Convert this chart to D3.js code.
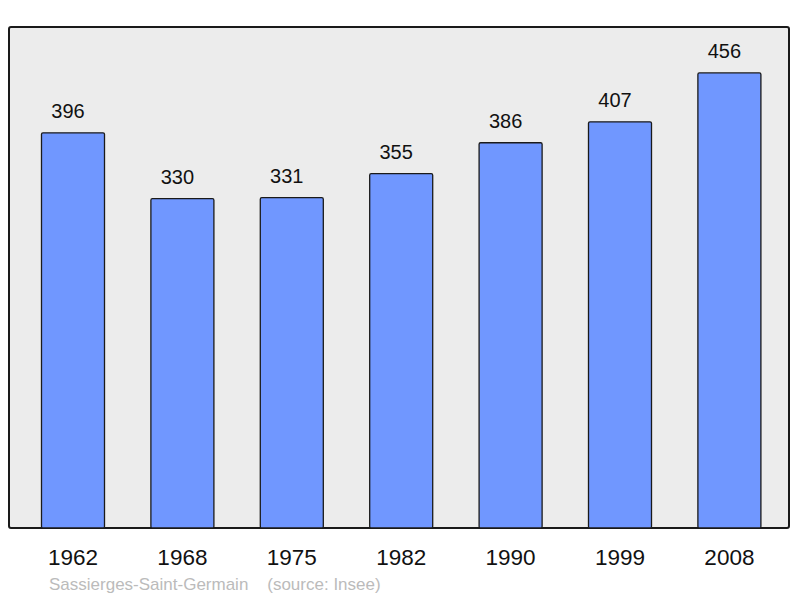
<!DOCTYPE html>
<html>
<head>
<meta charset="utf-8">
<script src="https://cdn.jsdelivr.net/npm/d3@7"></script>
<style>
  body { margin: 0; background: #fff; }
  text { font-family: "Liberation Sans", Arial, sans-serif; }
</style>
</head>
<body>
<div id="chart"></div>
<script>
var years = ['1962', '1968', '1975', '1982', '1990', '1999', '2008'];
var population = [396, 330, 331, 355, 386, 407, 456];
var townName = 'Sassierges-Saint-Germain';
var sourceText = '(source: Insee)';

var width = 800, height = 598;

var svg = d3.select('#chart')
    .append('svg')
    .attr('width', width)
    .attr('height', height);

// panel box
var panel = { x0: 9, x1: 789, y0: 27, y1: 528 };

svg.append('rect')
    .attr('x', panel.x0)
    .attr('y', panel.y0)
    .attr('width', panel.x1 - panel.x0)
    .attr('height', panel.y1 - panel.y0)
    .attr('rx', 2)
    .attr('fill', '#ececec')
    .attr('stroke', '#1a1a1a')
    .attr('stroke-width', 2);

var xScale = d3.scaleBand()
    .domain(years)
    .range([18.3, 784.1])
    .paddingInner(0.424)
    .paddingOuter(0.212);

var yScale = d3.scaleLinear()
    .domain([0, 502])
    .range([panel.y1, panel.y0]);

var data = years.map(function(y, i) { return { year: y, value: population[i] }; });

var bars = svg.append('g')
    .selectAll('.bar')
    .data(data)
    .enter()
    .append('g')
    .classed('bar', true);

bars.append('rect')
    .attr('x', function(d) { return xScale(d.year); })
    .attr('y', function(d) { return yScale(d.value); })
    .attr('width', xScale.bandwidth())
    .attr('height', function(d) { return panel.y1 - yScale(d.value); })
    .attr('rx', 1.5)
    .attr('fill', '#7097ff')
    .attr('stroke', '#1a1a1a')
    .attr('stroke-width', 1.3);

// value labels sit a little left of the bar centre
bars.append('text')
    .text(function(d) { return d.value; })
    .attr('x', function(d) { return xScale(d.year) + xScale.bandwidth() / 2 - 5; })
    .attr('y', function(d) { return yScale(d.value) - 14.6; })
    .attr('text-anchor', 'middle')
    .attr('font-size', 20)
    .attr('fill', '#111');

// year labels
var xAxis = d3.axisBottom(xScale).tickSize(0).tickPadding(0);
var axisG = svg.append('g')
    .attr('transform', 'translate(0,' + panel.y1 + ')')
    .call(xAxis);
axisG.select('.domain').remove();
axisG.selectAll('text')
    .attr('dy', null)
    .attr('y', 37)
    .attr('font-size', 22.5)
    .attr('font-family', '"Liberation Sans", Arial, sans-serif')
    .attr('fill', '#111');

svg.append('text')
    .attr('x', 49)
    .attr('y', 590)
    .attr('font-size', 17)
    .attr('fill', '#bbbbbb')
    .attr('xml:space', 'preserve')
    .text(townName + '    ' + sourceText);
</script>
</body>
</html>
